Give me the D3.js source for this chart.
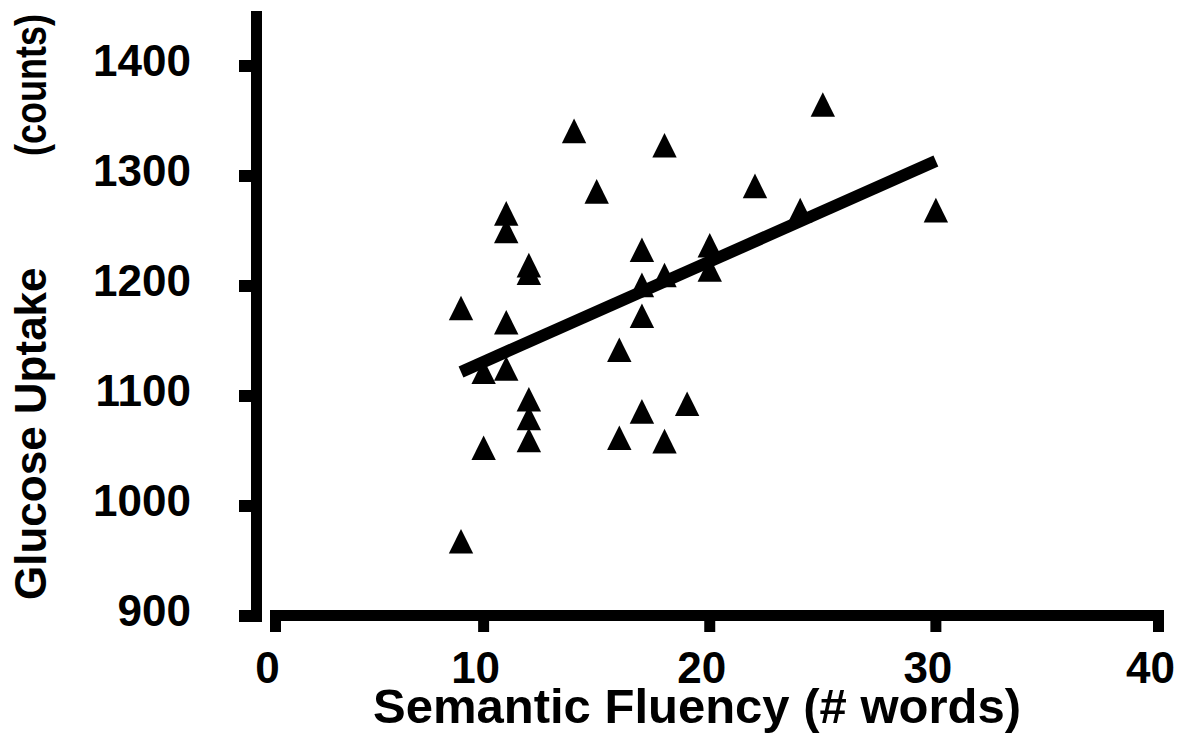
<!DOCTYPE html>
<html>
<head>
<meta charset="utf-8">
<script src="https://cdn.jsdelivr.net/npm/d3@7"></script>
<style>
  html, body { margin: 0; padding: 0; background: #fff; }
  svg { display: block; }
  text { font-family: "Liberation Sans", Arial, sans-serif; font-weight: bold; fill: #000; }
</style>
</head>
<body>
<svg id="chart" width="1193" height="754"></svg>
<script>
// Semantic fluency score (# words) for each subject
const fluency = [9, 9, 10, 10, 11, 11, 11, 11, 12, 12, 12, 12, 12, 14, 15, 16, 16,
                 17, 17, 17, 17, 18, 18, 18, 19, 20, 20, 22, 24, 25, 30];
// Glucose uptake (counts) for the same subjects
const uptake = [1180, 968, 1122, 1053, 1266, 1250, 1167, 1125, 1219, 1212, 1097, 1080, 1060, 1341, 1286, 1142, 1062,
                1233, 1201, 1173, 1086, 1328, 1210, 1059, 1093, 1237, 1215, 1291, 1269, 1365, 1269];
const xTicks = [0, 10, 20, 30, 40];
const yTicks = [900, 1000, 1100, 1200, 1300, 1400];
const xTitle = "Semantic Fluency (# words)";
const yTitleMain = "Glucose Uptake";
const yTitleUnit = "(counts)";

const svg = d3.select("#chart");
const x = d3.scaleLinear().domain([0, 40]).range([257.5, 1162]);
const y = d3.scaleLinear().domain([900, 1400]).range([616, 66]);

const AXIS_W = 11;

// ---- Y axis: heavy spine with ticks pointing left
const yAxisX = 256.5;
svg.append("line")
  .attr("x1", yAxisX).attr("x2", yAxisX)
  .attr("y1", 11).attr("y2", y(900) + 6)
  .attr("stroke", "#000").attr("stroke-width", AXIS_W);
svg.append("g").selectAll("line").data(yTicks).join("line")
  .attr("x1", 239).attr("x2", yAxisX)
  .attr("y1", d => y(d)).attr("y2", d => y(d))
  .attr("stroke", "#000").attr("stroke-width", 12);
svg.append("g").selectAll("text").data(yTicks).join("text")
  .attr("x", 191).attr("y", d => y(d) + 10)
  .attr("text-anchor", "end")
  .style("font-size", "44px")
  .text(d => d);

// ---- X axis: heavy spine with ticks pointing down
const xAxisY = 615.5;
const xStart = x(0) + 12.5, xEnd = x(40) + 2;
svg.append("line")
  .attr("x1", xStart).attr("x2", xEnd)
  .attr("y1", xAxisY).attr("y2", xAxisY)
  .attr("stroke", "#000").attr("stroke-width", AXIS_W);
const tickX = d => Math.min(Math.max(x(d), xStart + 5.5), xEnd - 5.5);
svg.append("g").selectAll("line").data(xTicks).join("line")
  .attr("x1", tickX).attr("x2", tickX)
  .attr("y1", xAxisY).attr("y2", 632)
  .attr("stroke", "#000").attr("stroke-width", AXIS_W);
svg.append("g").selectAll("text").data(xTicks).join("text")
  .attr("x", d => tickX(d) - 8).attr("y", 683)
  .attr("text-anchor", "middle")
  .style("font-size", "44px")
  .text(d => d);

// ---- Axis titles
svg.append("text")
  .attr("x", 697).attr("y", 723)
  .attr("text-anchor", "middle")
  .style("font-size", "49px")
  .text(xTitle);
svg.append("text")
  .attr("transform", "translate(46,600) rotate(-90)")
  .attr("text-anchor", "start")
  .style("font-size", "44px")
  .text(yTitleMain);
svg.append("text")
  .attr("transform", "translate(46,156) rotate(-90)")
  .attr("text-anchor", "start")
  .attr("textLength", 142)
  .attr("lengthAdjust", "spacingAndGlyphs")
  .style("font-size", "44px")
  .text(yTitleUnit);

// ---- Data points (filled triangles)
const pts = fluency.map((f, i) => ({ f, u: uptake[i] }));
svg.append("g").selectAll("path").data(pts).join("path")
  .attr("transform", d => `translate(${x(d.f)},${y(d.u)})`)
  .attr("d", "M0,-12.3L12.2,12.3L-12.2,12.3Z")
  .attr("fill", "#000");

// ---- Least-squares fit line, drawn over the points
const mx = d3.mean(fluency), my = d3.mean(uptake);
let sxy = 0, sxx = 0;
fluency.forEach((f, i) => { sxy += (f - mx) * (uptake[i] - my); sxx += (f - mx) * (f - mx); });
const slope = sxy / sxx, intercept = my - slope * mx;
const [fMin, fMax] = d3.extent(fluency);
svg.append("line")
  .attr("x1", x(fMin)).attr("y1", y(intercept + slope * fMin))
  .attr("x2", x(fMax)).attr("y2", y(intercept + slope * fMax))
  .attr("stroke", "#000").attr("stroke-width", 12)
  .attr("stroke-linecap", "butt");
</script>
</body>
</html>
